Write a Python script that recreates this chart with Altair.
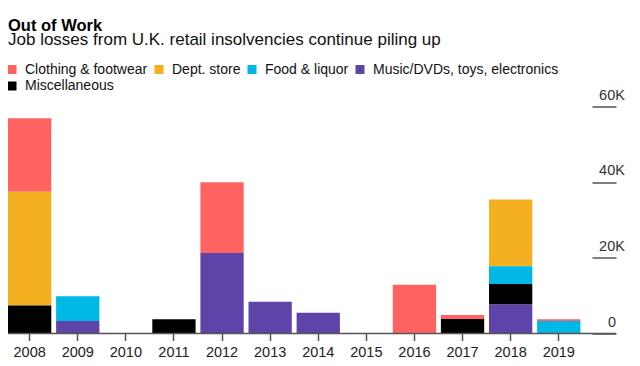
import altair as alt
import pandas as pd

years = ["2008", "2009", "2010", "2011", "2012", "2013", "2014", "2015", "2016", "2017", "2018", "2019"]
categories = ["Clothing & footwear", "Dept. store", "Food & liquor", "Music/DVDs, toys, electronics", "Miscellaneous"]
colors = ["#ff6361", "#f5b022", "#00b8e5", "#5e44a9", "#000000"]
# stacking order bottom -> top
stack_order = ["Music/DVDs, toys, electronics", "Miscellaneous", "Food & liquor", "Dept. store", "Clothing & footwear"]

# job losses, thousands
clothing = [19.4, 0, 0, 0, 18.7, 0, 0, 0, 12.9, 1.05, 0, 0.45]
dept = [30.1, 0, 0, 0, 0, 0, 0, 0, 0, 0, 17.6, 0]
food = [0, 6.55, 0, 0, 0, 0, 0, 0, 0, 0, 4.7, 3.3]
music = [0, 3.3, 0, 0, 21.3, 8.4, 5.5, 0, 0, 0, 7.7, 0]
misc = [7.4, 0, 0, 3.75, 0, 0, 0, 0, 0, 3.85, 5.4, 0]

y_ticks = [0, 20, 40, 60]

series = dict(zip(categories, [clothing, dept, food, music, misc]))
rows = []
for cat, vals in series.items():
    for yr, v in zip(years, vals):
        rows.append({"year": yr, "category": cat, "jobs": v, "order": stack_order.index(cat)})
df = pd.DataFrame(rows)

FONT = "Liberation Sans, Arial, sans-serif"

bars = alt.Chart(df).mark_bar().encode(
    x=alt.X("year:N", sort=years,
            scale=alt.Scale(domain=years, range=[-2.4, 574.8], paddingInner=0.1, paddingOuter=0.05),
            axis=alt.Axis(title=None, domain=False, tickColor="#555555", tickSize=7, tickWidth=1.5,
                          labelFontSize=14.5, labelColor="#222222", labelPadding=5, labelAngle=0, labelFont=FONT)),
    y=alt.Y("jobs:Q", stack="zero",
            scale=alt.Scale(domain=[0, 60], nice=False),
            axis=alt.Axis(title=None, orient="right", offset=-24, tickSize=24, tickColor="#555555", tickWidth=1.5,
                          domain=False, grid=False, values=y_ticks,
                          labelExpr="datum.value == 0 ? '0' : datum.value + 'K'",
                          labelAlign="center", labelPadding=-4.5, labelBaseline="alphabetic", labelOffset=-7.5,
                          labelFontSize=14.5, labelColor="#333333", labelFont=FONT)),
    color=alt.Color("category:N", scale=alt.Scale(domain=categories, range=colors),
                    legend=alt.Legend(title=None, orient="none", legendX=-3, legendY=-44, columns=4,
                                      padding=0, direction="horizontal", symbolType="square", symbolSize=81,
                                      symbolStrokeWidth=0, labelFontSize=14, labelFont=FONT,
                                      labelColor="#111111", labelOffset=6, columnPadding=4, rowPadding=2.5,
                                      labelLimit=400)),
    order=alt.Order("order:Q", sort="ascending"),
)

baseline = alt.Chart(pd.DataFrame({"v": [0]})).mark_rule(color="#555555", strokeWidth=1.5).encode(
    y=alt.Y("v:Q", scale=alt.Scale(domain=[0, 60], nice=False))
)

chart = alt.layer(bars, baseline).properties(
    width=608,
    height=227,
    autosize=alt.AutoSizeParams(type="none"),
    padding={"left": 0, "top": 98.5, "right": 16, "bottom": 28},
    title=alt.TitleParams(
        text="Out of Work",
        subtitle="Job losses from U.K. retail insolvencies continue piling up",
        anchor="start", frame="group",
        font=FONT, fontSize=16.5, fontWeight="bold", color="#000000",
        subtitleFont=FONT, subtitleFontSize=17, subtitleColor="#111111", subtitlePadding=-3, offset=15,
    ),
).configure_view(stroke=None)

chart.save("out.html", embed_options={"renderer": "svg", "actions": False})
